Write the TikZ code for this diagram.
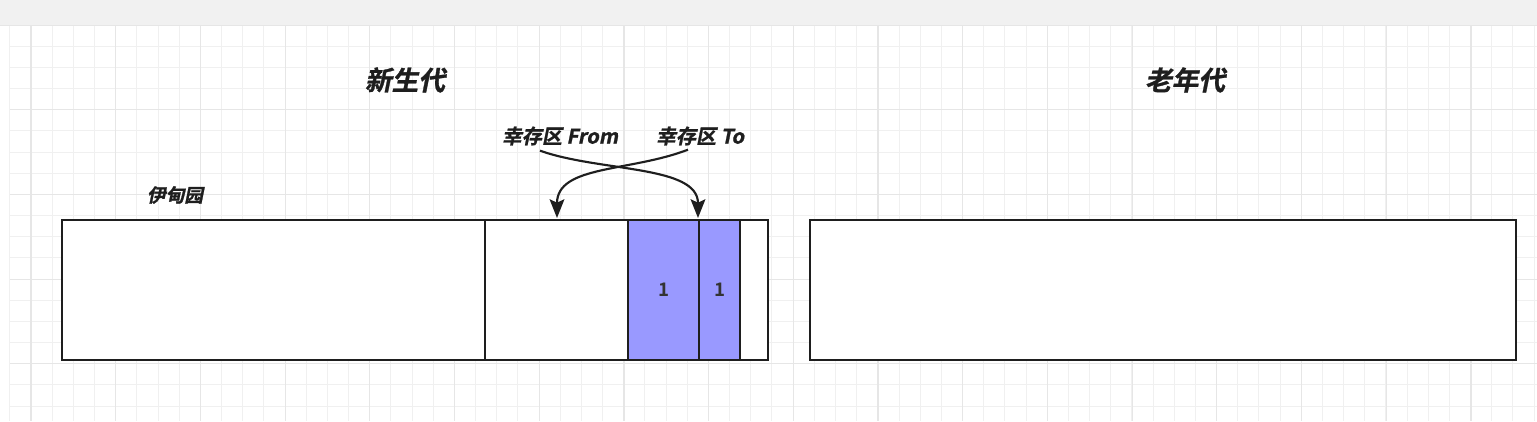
\documentclass[tikz,border=0pt]{standalone}
\usepackage{fontspec}
\usetikzlibrary{arrows.meta,calc}
\newfontfamily\cjkbi{Noto Sans CJK SC Bold}[FakeSlant=0.2,FakeBold=1.2]
\newfontfamily\cjkb{Noto Sans CJK SC Bold}
\definecolor{gridfine}{HTML}{F0F0F0}
\definecolor{gridbold}{HTML}{E6E6E6}
\definecolor{band}{HTML}{F1F1F1}
\definecolor{blueish}{HTML}{9999FF}
\definecolor{ink}{HTML}{1E1E1E}
\definecolor{numink}{HTML}{333333}
\tikzset{
  cell/.style={draw=ink, line width=1.6pt, fill=white, inner sep=0pt, anchor=north west, minimum height=105pt},
  bluecell/.style={cell, fill=blueish},
  title/.style={font=\cjkbi\fontsize{20}{22}\selectfont, text=ink, inner sep=0pt},
  sublabel/.style={font=\cjkbi\fontsize{15}{18}\selectfont, text=ink, inner sep=0pt},
  edenlabel/.style={font=\cjkbi\fontsize{14}{16}\selectfont, text=ink, inner sep=0pt},
  num/.style={font=\cjkb\fontsize{14}{16}\selectfont, text=numink},
  conn/.style={draw=ink, line width=1.6pt, -{Stealth[length=14pt,width=11pt,inset=2.5pt]}},
}
\begin{document}
\begin{tikzpicture}[x=0.75pt,y=-0.75pt]
\useasboundingbox (0,0) rectangle (1537,421);
\fill[white] (0,0) rectangle (1537,421);
% grid
\foreach \i in {0,...,72} {
  \draw[gridfine, line width=0.75pt] ({9.85+21.17*\i},25) -- ({9.85+21.17*\i},421);
}
\foreach \j in {0,...,18} {
  \draw[gridfine, line width=0.75pt] (10,{25+21.17*\j}) -- (1537,{25+21.17*\j});
}
\foreach \i in {0,...,17} {
  \draw[gridbold, line width=0.9pt] ({31+84.7*\i},25) -- ({31+84.7*\i},421);
}
\foreach \j in {1,...,4} {
  \draw[gridbold, line width=0.9pt] (10,{25+84.7*\j}) -- (1537,{25+84.7*\j});
}
% top band
\fill[band] (0,0) rectangle (1537,25);
\draw[gridbold, line width=0.75pt] (0,25) -- (1537,25);

% titles
\node[title] (young) at (405,80) {新生代};
\node[title] (old) at (1185,80) {老年代};
\node[sublabel] (from) at (560,136) {幸存区 From};
\node[sublabel] (to) at (700,136) {幸存区 To};
\node[edenlabel] (edenlbl) at (175,195) {伊甸园};

% young generation cells
\node[cell, minimum width=317.25pt] (eden) at (61,219) {};
\node[cell, minimum width=107.25pt] (s1) at (484,219) {};
\node[bluecell, minimum width=53.25pt] (b1) at (627,219) {};
\node[bluecell, minimum width=30.75pt] (b2) at (698,219) {};
\node[cell, minimum width=21pt] (rest) at (739,219) {};
\node[num] (n1) at (b1.center) {1};
\node[num] (n2) at (b2.center) {1};

% old generation
\node[cell, minimum width=529.5pt] (oldbox) at (809,219) {};

% arrows
\coordinate (tgtA) at (698,218);
\coordinate (tgtB) at (557,218);
\draw[conn] ($(from.south)+(-20,5)$) .. controls (600,172) and (698,165) .. (tgtA);
\draw[conn] ($(to.south)+(-12,4)$) .. controls (630,172) and (557,165) .. (tgtB);
\end{tikzpicture}
\end{document}
